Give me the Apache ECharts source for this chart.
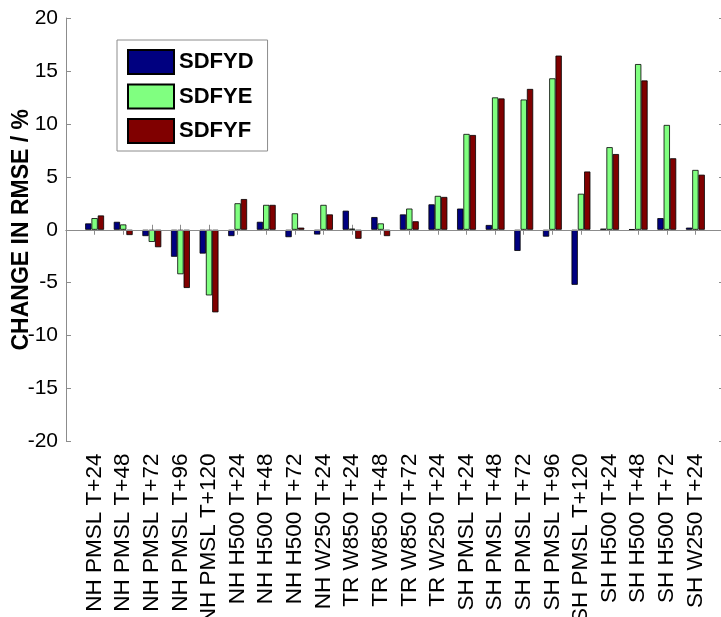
<!DOCTYPE html>
<html>
<head>
<meta charset="utf-8">
<script src="https://cdn.jsdelivr.net/npm/echarts@6/dist/echarts.min.js"></script>
<style>
html,body{margin:0;padding:0;background:#fff;}
#chart{width:721px;height:617px;}
</style>
</head>
<body>
<div id="chart"></div>
<script>
const categories = ['NH PMSL T+24','NH PMSL T+48','NH PMSL T+72','NH PMSL T+96','NH PMSL T+120',
  'NH H500 T+24','NH H500 T+48','NH H500 T+72','NH W250 T+24',
  'TR W850 T+24','TR W850 T+48','TR W850 T+72','TR W250 T+24',
  'SH PMSL T+24','SH PMSL T+48','SH PMSL T+72','SH PMSL T+96','SH PMSL T+120',
  'SH H500 T+24','SH H500 T+48','SH H500 T+72','SH W250 T+24'];
const seriesNames = ['SDFYD','SDFYE','SDFYF'];
const sdfyd = [0.6, 0.75, -0.6, -2.55, -2.25, -0.6, 0.75, -0.7, -0.45, 1.8, 1.2, 1.45, 2.4, 2.0, 0.45, -2.0, -0.65, -5.2, 0.1, 0.05, 1.1, 0.2];
const sdfye = [1.1, 0.5, -1.15, -4.2, -6.2, 2.5, 2.35, 1.55, 2.35, 0.1, 0.6, 2.0, 3.2, 9.05, 12.5, 12.3, 14.3, 3.4, 7.8, 15.65, 9.9, 5.65];
const sdfyf = [1.35, -0.5, -1.65, -5.5, -7.8, 2.9, 2.35, 0.2, 1.45, -0.85, -0.6, 0.8, 3.1, 8.95, 12.4, 13.3, 16.45, 5.5, 7.15, 14.1, 6.75, 5.2];
const yMin = -20, yMax = 20, yStep = 5;
const yAxisTitle = 'CHANGE IN RMSE / %';

const colors = ['#000080', '#80ff80', '#800000'];
const FONT = 'Liberation Sans, Arial, Helvetica, sans-serif';
const AXIS_GREY = '#8c8c8c';

// pad with blank slots so the first/last categories sit one slot in from the edges
const paddedCats = [''].concat(categories, ['']);
const pad = arr => [null].concat(arr, [null]);
const n = paddedCats.length;
const tickShow = (i) => i > 0 && i < n - 1;

const chart = echarts.init(document.getElementById('chart'), null, {renderer: 'canvas'});

const makeSeries = (name, data, color, i) => {
  const s = {
    name: name,
    type: 'bar',
    data: pad(data),
    barWidth: 6.3,
    barGap: '0%',
    itemStyle: {color: color, borderColor: '#000', borderWidth: 0.8},
    xAxisIndex: 0,
    yAxisIndex: 0
  };
  if (i === 0) {
    s.markLine = {
      silent: true,
      symbol: ['none', 'none'],
      label: {show: false},
      lineStyle: {color: AXIS_GREY, type: 'solid', width: 1},
      data: [{yAxis: 0}]
    };
  }
  return s;
};

chart.setOption({
  animation: false,
  backgroundColor: '#fff',
  grid: {left: 66, right: -3, top: 18, bottom: 175.5, containLabel: false, outerBoundsMode: 'none'},
  legend: {
    orient: 'vertical',
    left: 117,
    top: 40,
    padding: [9, 14, 7, 10],
    itemWidth: 46,
    itemHeight: 24,
    itemGap: 8.5,
    borderColor: AXIS_GREY,
    borderWidth: 1,
    backgroundColor: '#fff',
    icon: 'rect',
    data: seriesNames,
    textStyle: {fontFamily: FONT, fontSize: 22, fontWeight: 'bold', color: '#000'}
  },
  xAxis: [
    {
      type: 'category',
      data: paddedCats,
      boundaryGap: false,
      position: 'bottom',
      axisLine: {show: true, lineStyle: {color: AXIS_GREY, width: 1}},
      axisTick: {show: true, inside: true, length: 5, interval: tickShow, lineStyle: {color: AXIS_GREY}},
      axisLabel: {show: true, interval: 0, rotate: 90, margin: 12, fontFamily: FONT, fontSize: 22.5, color: '#000'},
      splitLine: {show: false}
    },
    {
      type: 'category',
      data: paddedCats,
      boundaryGap: false,
      position: 'top',
      axisLine: {show: true, lineStyle: {color: AXIS_GREY, width: 1}},
      axisTick: {show: true, inside: true, length: 5, interval: tickShow, lineStyle: {color: AXIS_GREY}},
      axisLabel: {show: false},
      splitLine: {show: false}
    }
  ],
  yAxis: [
    {
      type: 'value',
      min: yMin, max: yMax, interval: yStep,
      position: 'left',
      name: yAxisTitle,
      nameLocation: 'middle',
      nameGap: 33,
      nameMoveOverlap: false,
      nameTextStyle: {fontFamily: FONT, fontSize: 23, fontWeight: 'bold', color: '#000'},
      axisLine: {show: true, lineStyle: {color: AXIS_GREY, width: 1}},
      axisTick: {show: true, inside: true, length: 5, lineStyle: {color: AXIS_GREY}},
      axisLabel: {margin: 8, fontFamily: FONT, fontSize: 21, color: '#000'},
      splitLine: {show: false}
    },
    {
      type: 'value',
      min: yMin, max: yMax, interval: yStep,
      position: 'right',
      axisLine: {show: true, lineStyle: {color: AXIS_GREY, width: 1}},
      axisTick: {show: true, inside: true, length: 5, lineStyle: {color: AXIS_GREY}},
      axisLabel: {show: false},
      splitLine: {show: false}
    }
  ],
  series: [
    makeSeries(seriesNames[0], sdfyd, colors[0], 0),
    makeSeries(seriesNames[1], sdfye, colors[1], 1),
    makeSeries(seriesNames[2], sdfyf, colors[2], 2)
  ]
});
</script>
</body>
</html>
